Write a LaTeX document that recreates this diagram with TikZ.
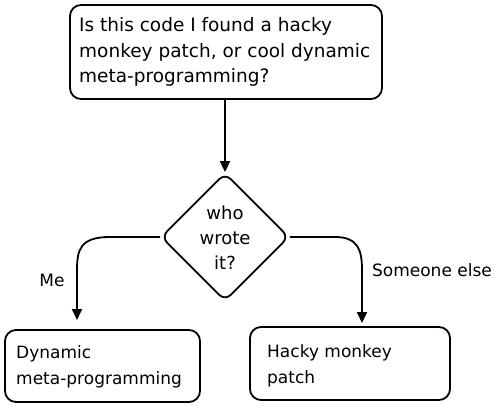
\documentclass[tikz,border=0pt]{standalone}
\usepackage{fontspec}
\setmainfont{DejaVu Sans}
\usetikzlibrary{arrows.meta,shapes.geometric}
\begin{document}
\begin{tikzpicture}[x=1pt,y=-1pt,
  box/.style={draw,line width=1.8pt,rounded corners=11pt},
  txt/.style={anchor=west,font=\fontsize{18.5}{25.5}\selectfont,align=left,inner sep=0pt},
  btxt/.style={anchor=west,font=\fontsize{17}{26}\selectfont,align=left,inner sep=0pt},
  conn/.style={line width=1.8pt,-{Triangle[length=11pt,width=10pt]}},
  lbl/.style={font=\fontsize{17}{20}\selectfont,inner sep=0pt}]
\useasboundingbox (0,0) rectangle (500,406);
\draw[box] (70,5) rectangle (382,99);
\node[txt] (q) at (79,52) {Is this code I found a hacky\\monkey patch, or cool dynamic\\meta-programming?};
\coordinate (qb) at (225,99);
\node[draw,line width=1.8pt,diamond,rounded corners=8pt,minimum width=128pt,minimum height=128pt,inner sep=0pt] (d) at (225,237) {};
\node[font=\fontsize{18}{25}\selectfont,align=center,inner sep=0pt] (dt) at (225,238) {who\\wrote\\it?};
\draw[box] (5,330) rectangle (200,402);
\node[btxt] (l) at (16,367) {Dynamic\\meta-programming};
\draw[box] (250,327) rectangle (450,400);
\node[btxt] (r) at (267,366) {Hacky monkey\\patch};
\coordinate (lt) at (77,320);
\coordinate (rt) at (362,323);
\draw[conn] (qb) -- (d.north);
\draw[conn] (d.west) -- (110,237) .. controls (80,237) and (77,250) .. (77,270) -- (lt);
\draw[conn] (d.east) -- (335,237) .. controls (358,237) and (362,250) .. (362,270) -- (rt);
\node[lbl] (me) at (52,280) {Me};
\node[lbl] (se) at (432,270) {Someone else};
\end{tikzpicture}
\end{document}
